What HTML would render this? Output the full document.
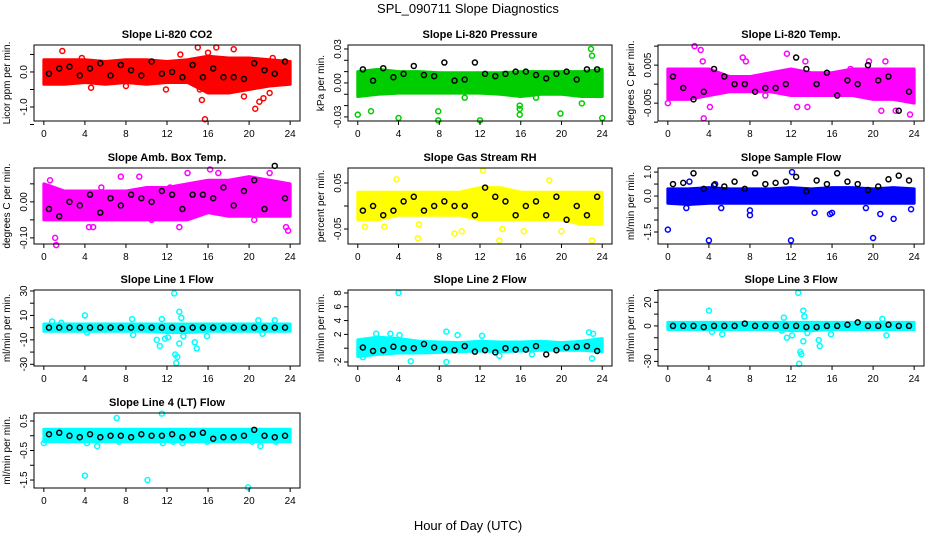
<!DOCTYPE html>
<html><head><meta charset="utf-8">
<style>
html,body{margin:0;padding:0;background:#fff;}
svg{display:block;font-family:"Liberation Sans",sans-serif;}
</style></head>
<body>
<svg id="chart" width="936" height="540" viewBox="0 0 936 540">
<text x="468" y="13" text-anchor="middle" font-size="13">SPL_090711  Slope Diagnostics</text>
<text x="468" y="530" text-anchor="middle" font-size="13">Hour of Day (UTC)</text>
</svg>
<script>
const xTicks = [0,4,8,12,16,20,24];
const bandHours = [0,2,4,6,8,10,12,14,16,18,20,22,24];

// Panel 1 CO2
const co2Lo = [-0.35,-0.35,-0.3,-0.35,-0.3,-0.35,-0.3,-0.3,-0.6,-0.6,-0.5,-0.4,-0.35];
const co2Hi = [0.35,0.35,0.35,0.3,0.35,0.35,0.3,0.35,0.45,0.4,0.4,0.35,0.3];
const co2Out = [[1.8,0.6],[4.6,-0.45],[3.7,0.4],[8,-0.4],[11.9,-0.5],[15,0.7],[15.2,-0.5],[15.4,-0.8],[15.7,-1.35],[16.8,0.7],[18.5,0.65],[19.5,-0.7],[20.6,-1.05],[21,-0.85],[21.4,-0.75],[22,-0.6],[22.3,0.4],[13.3,0.5],[17,-0.5],[16,0.55]];
const co2Black = [-0.05,0.1,0.15,-0.1,0.1,0.25,-0.1,0.2,0.05,-0.1,0.3,-0.05,0,-0.15,0.2,-0.15,0.1,-0.15,-0.15,-0.2,0.25,0.05,-0.05,0.3];
// Panel 2 Pressure
const presLo = [-0.012,-0.01,-0.009,-0.009,-0.009,-0.009,-0.009,-0.01,-0.012,-0.01,-0.01,-0.012,-0.012];
const presHi = [0.01,0.012,0.01,0.01,0.009,0.009,0.009,0.009,0.01,0.01,0.01,0.01,0.012];
const presOut = [[0,-0.028],[1.3,-0.025],[4,-0.031],[7.9,-0.025],[7.9,-0.033],[12,-0.033],[15.9,-0.02],[15.9,-0.023],[15.9,-0.028],[19.9,-0.027],[22,-0.018],[22.9,0.03],[23,0.024],[24,-0.031],[10.5,-0.013],[17.5,-0.013]];
const presBlack = [0.012,0.002,0.013,0.005,0.008,0.015,0.007,0.006,0.018,0.002,0.003,0.018,0.008,0.006,0.008,0.01,0.01,0.007,0.004,0.008,0.01,0.003,0.012,0.012];
// Panel 3 Li-820 Temp
const tempLo = [-0.004,-0.004,-0.003,-0.002,-0.002,-0.002,-0.003,-0.003,-0.003,-0.003,-0.004,-0.004,-0.005];
const tempHi = [0.004,0.004,0.004,0.002,0.002,0.003,0.004,0.003,0.003,0.004,0.004,0.004,0.004];
const tempOut = [[2.6,0.01],[3.2,0.009],[3.5,-0.009],[3.4,0.006],[7.3,0.007],[7.6,0.006],[11.6,0.008],[13.4,0.006],[13.6,-0.006],[12.6,-0.006],[21.2,0.006],[20.8,-0.007],[22.2,-0.007],[23.6,-0.008],[0,-0.005],[4.1,-0.006],[9.5,-0.003],[19.6,0.006],[17.8,0.004]];
const tempBlack = [0.002,-0.001,-0.004,-0.002,0.004,0.002,0,0,-0.002,-0.001,-0.001,0,0.007,0.004,0,0.003,-0.003,0.001,0,0.005,0.001,0.002,-0.007,-0.002];
// Panel 4 Amb Box Temp
const ambLo = [-0.05,-0.05,-0.05,-0.05,-0.05,-0.05,-0.05,-0.05,-0.03,-0.04,-0.04,-0.04,-0.04];
const ambHi = [0.05,0.03,0.03,0.03,0.03,0.04,0.04,0.05,0.06,0.06,0.07,0.06,0.05];
const ambOut = [[1.1,-0.1],[1.2,-0.12],[0.6,0.06],[4.4,-0.07],[4.8,-0.07],[7.5,0.07],[9.3,0.07],[10.5,-0.05],[13.2,-0.07],[14,0.08],[16.2,0.09],[17,0.08],[20.5,-0.05],[22,0.08],[23.6,-0.07],[23.8,-0.08],[5.6,0.04],[12.3,0.04]];
const ambBlack = [-0.02,-0.04,0,-0.01,0.02,-0.03,0.01,-0.01,0.02,0.01,0,0.03,0.02,-0.02,0.02,0.02,0.01,0.04,-0.01,0.03,0.06,-0.02,0.1,0.01];
// Panel 5 Gas RH
const rhLo = [-0.03,-0.03,-0.02,-0.02,-0.02,-0.02,-0.03,-0.03,-0.03,-0.03,-0.03,-0.04,-0.04];
const rhHi = [0.03,0.03,0.03,0.03,0.03,0.03,0.04,0.04,0.03,0.03,0.03,0.03,0.03];
const rhOut = [[0.7,-0.045],[2.6,-0.045],[3.8,0.058],[5.9,-0.07],[6,-0.04],[12.3,0.077],[9.5,-0.06],[13.9,-0.075],[18.8,0.056],[16.3,-0.055],[20,-0.055],[23,-0.075],[10.2,-0.055],[14.2,-0.05]];
const rhBlack = [-0.01,0,-0.02,-0.01,0.01,0.02,-0.01,0,0.01,0,0,-0.02,0.04,0.02,0.01,-0.02,0,0.01,-0.02,0.02,-0.03,0,-0.02,0.02];
// Panel 6 Sample Flow
const sfLo = [-0.3,-0.35,-0.3,-0.3,-0.3,-0.3,-0.3,-0.3,-0.3,-0.3,-0.3,-0.3,-0.3];
const sfHi = [0.3,0.3,0.35,0.3,0.3,0.3,0.35,0.3,0.35,0.35,0.3,0.35,0.3];
const sfOut = [[0,-1.4],[4,-1.85],[12,-1.85],[20,-1.75],[12.1,1.0],[2.1,0.6],[4.6,0.5],[8,-0.8],[8,-0.6],[16,-0.7],[15.8,-0.75],[19.3,-0.5],[20.7,-0.75],[22,-0.95],[23.7,-0.55],[14.3,-0.7],[5.2,-0.5],[1.8,-0.5]];
const sfBlack = [0.5,0.55,0.95,0.3,0.45,0.4,0.6,0.3,0.95,0.5,0.55,0.6,0.8,0.2,0.65,0.5,0.95,0.6,0.5,0.25,0.4,0.7,0.85,0.65];
// Panel 7 Line 1
const l1Lo = [-3,-3,-3,-3,-3,-3,-4,-4,-3,-3,-3,-3,-3];
const l1Hi = [3,3,3,3,3,3,3,3,3,3,3,3,3];
const l1Out = [[4,10],[0.8,5],[1.7,4],[4.2,-4],[8.7,-6],[8.6,7],[11,-10],[11.3,-15],[11.5,7],[12.7,28],[12.9,-29],[12.8,-22],[13,-24],[13.2,13],[13.4,8],[13.2,-13],[13.6,-7],[14.7,-12],[14.9,-17],[15.9,-7],[21.3,-5],[22.5,6],[20.9,6],[11.8,-9],[12.1,-8]];
const l1Black = [0,0,0,0,0,0,0,0,0,0,0,0,0,-1,0,0,0,0,0,0,0,0,0,0];
// Panel 8 Line 2
const l2Lo = [-1.2,-0.9,-0.7,-0.7,-0.6,-0.5,-0.4,-0.5,-0.4,-0.3,-0.3,-0.3,-0.5];
const l2Hi = [1.2,1.6,1.4,1.0,0.9,0.8,1.0,0.9,0.9,1.0,0.8,1.0,1.4];
const l2Out = [[0.5,-1.3],[4,8],[5.2,-1.9],[8.7,-2.0],[1.8,2.1],[3.2,2.1],[4.1,1.9],[8.7,2.4],[9.8,1.9],[12.2,1.8],[23,-1.5],[22.7,2.3],[23.1,2.1],[13.9,-1.1],[17.1,-0.9]];
const l2Black = [0.1,-0.4,-0.3,0.2,0,0,0.6,0.1,-0.2,-0.3,0.3,-0.5,-0.3,-0.6,0,-0.2,-0.2,0.3,-0.9,-0.3,0.1,0.2,0.3,-0.4];
// Panel 9 Line 3
const l3Lo = [-3,-3,-3,-3,-3,-3,-4,-4,-3,-3,-3,-3,-3];
const l3Hi = [3,3,3,3,3,3,3,3,3,3,3,3,3];
const l3Out = [[4,13],[4.3,-5],[5.3,-7],[11.1,-4],[11.3,7],[12.7,28],[12.8,-32],[12.9,-22],[13,-24],[13.2,13],[13.3,8],[13.2,-13],[14.7,-12],[14.8,-17],[15.9,-7],[21.3,-8],[20.9,6],[11.6,-10],[12.1,-8],[13.6,-6]];
const l3Black = [0,0,0,-1,0,0,0,2,0,0,0,0,0,-1,-1,0,0,1,3,0,0,1,0,0];
// Panel 10 Line 4
const l4Lo = [-0.2,-0.2,-0.2,-0.2,-0.2,-0.2,-0.2,-0.2,-0.2,-0.2,-0.2,-0.2,-0.2];
const l4Hi = [0.22,0.22,0.22,0.22,0.22,0.22,0.22,0.22,0.22,0.22,0.22,0.22,0.22];
const l4Out = [[0,-0.25],[4,-1.35],[4.2,-0.25],[5.2,-0.35],[7.1,0.6],[7.3,-0.2],[10.1,-1.5],[11.5,0.75],[11.6,-0.25],[13.5,-0.25],[15.9,-0.2],[19.9,-1.75],[20.3,-0.2],[21.1,-0.35],[22.6,-0.2],[12.6,-0.2]];
const l4Black = [0.05,0.1,0,-0.05,0.05,-0.05,0,0,-0.05,0.05,0,0,0.05,-0.05,0.05,0.1,-0.1,-0.05,-0.05,0,0.2,0,-0.05,0];

const panels = [
 {name:'co2',title:'Slope Li-820 CO2',ylab:'Licor ppm per min.',col:'#ff0000',box:[34,45,300,121],ylim:[-1.40,0.77],ticks:[-1.5,-1,-0.5,0,0.5],labels:{'-1':'-1.0','0':'0.0'},lo:co2Lo,hi:co2Hi,out:co2Out,blk:co2Black},
 {name:'pressure',title:'Slope Li-820 Pressure',ylab:'kPa per min.',col:'#00cd00',box:[348,45,612,121],ylim:[-0.0336,0.0335],ticks:[-0.03,-0.02,-0.01,0,0.01,0.02,0.03],labels:{'-0.03':'-0.03','0':'0.00','0.03':'0.03'},lo:presLo,hi:presHi,out:presOut,blk:presBlack},
 {name:'li820-temp',title:'Slope Li-820 Temp.',ylab:'degrees C per min.',col:'#ff00ff',box:[658,45,924,121],ylim:[-0.0097,0.0103],ticks:[-0.01,-0.005,0,0.005,0.01],labels:{'-0.005':'-0.005','0.005':'0.005'},lo:tempLo,hi:tempHi,out:tempOut,blk:tempBlack},
 {name:'amb-box-temp',title:'Slope Amb. Box Temp.',ylab:'degrees C per min.',col:'#ff00ff',box:[34,168,300,244],ylim:[-0.117,0.094],ticks:[-0.1,-0.05,0,0.05],labels:{'-0.1':'-0.10','0':'0.00'},lo:ambLo,hi:ambHi,out:ambOut,blk:ambBlack},
 {name:'gas-rh',title:'Slope Gas Stream RH',ylab:'percent per min.',col:'#ffff00',box:[348,168,612,244],ylim:[-0.0826,0.0826],ticks:[-0.05,0,0.05],labels:{'-0.05':'-0.05','0.05':'0.05'},lo:rhLo,hi:rhHi,out:rhOut,blk:rhBlack},
 {name:'sample-flow',title:'Slope Sample Flow',ylab:'ml/min per min.',col:'#0000ff',box:[658,168,924,244],ylim:[-2.0,1.17],ticks:[-1.5,-1,-0.5,0,0.5,1],labels:{'-1.5':'-1.5','0':'0.0','1':'1.0'},lo:sfLo,hi:sfHi,out:sfOut,blk:sfBlack},
 {name:'line1-flow',title:'Slope Line 1 Flow',ylab:'ml/min per min.',col:'#00ffff',box:[34,290,300,366],ylim:[-31.4,30.8],ticks:[-30,-20,-10,0,10,20,30],labels:{'-30':'-30','-10':'-10','10':'10','30':'30'},lo:l1Lo,hi:l1Hi,out:l1Out,blk:l1Black},
 {name:'line2-flow',title:'Slope Line 2 Flow',ylab:'ml/min per min.',col:'#00ffff',box:[348,290,612,366],ylim:[-2.58,8.43],ticks:[-2,0,2,4,6,8],labels:{'-2':'-2','2':'2','4':'4','6':'6','8':'8'},lo:l2Lo,hi:l2Hi,out:l2Out,blk:l2Black},
 {name:'line3-flow',title:'Slope Line 3 Flow',ylab:'ml/min per min.',col:'#00ffff',box:[658,290,924,366],ylim:[-33.9,30.4],ticks:[-30,-20,-10,0,10,20,30],labels:{'-30':'-30','0':'0','20':'20'},lo:l3Lo,hi:l3Hi,out:l3Out,blk:l3Black},
 {name:'line4-flow',title:'Slope Line 4 (LT) Flow',ylab:'ml/min per min.',col:'#00ffff',box:[34,413,300,488],ylim:[-1.77,0.77],ticks:[-1.5,-1,-0.5,0,0.5],labels:{'-1.5':'-1.5','-0.5':'-0.5','0.5':'0.5'},lo:l4Lo,hi:l4Hi,out:l4Out,blk:l4Black}
];

const NS='http://www.w3.org/2000/svg';
const svg=document.getElementById('chart');
function mk(tag,attrs,parent){const e=document.createElementNS(NS,tag);for(const k in attrs)e.setAttribute(k,attrs[k]);(parent||svg).appendChild(e);return e;}

panels.forEach(p=>{
  const [x0,y0,x1,y1]=p.box;
  const g=mk('g',{});
  
  
  const xs=h=>x0+(h+0.96)/25.92*(x1-x0);
  const ys=v=>y1-(v-p.ylim[0])/(p.ylim[1]-p.ylim[0])*(y1-y0);
  const t=mk('text',{x:(x0+x1)/2,y:y0-7,'text-anchor':'middle','font-size':11,'font-weight':'bold'},g);
  t.textContent=p.title;
  
  
  const yl=mk('text',{x:0,y:0,'text-anchor':'middle','font-size':10,transform:`translate(${x0-24},${(y0+y1)/2}) rotate(-90)`},g);
  yl.textContent=p.ylab;
  
  
  let d='';
  bandHours.forEach((h,i)=>{d+=(i?'L':'M')+xs(h)+','+ys(p.hi[i]);});
  for(let i=bandHours.length-1;i>=0;i--)d+='L'+xs(bandHours[i])+','+ys(p.lo[i]);
  const band=mk('path',{d:d+'Z',fill:p.col,stroke:p.col,'stroke-width':3,'stroke-linejoin':'round'},g);
  
  
  p.out.forEach(o=>{
    const c=mk('circle',{cx:xs(o[0]),cy:ys(o[1]),r:2.5,fill:'none',stroke:p.col,'stroke-width':1.5},g);
    
    
  });
  p.blk.forEach((v,i)=>{
    const c=mk('circle',{cx:xs(0.5+i),cy:ys(v),r:2.5,fill:'none',stroke:'#000','stroke-width':1.5},g);
    
    
  });
  const b=mk('rect',{x:x0,y:y0,width:x1-x0,height:y1-y0,fill:'none',stroke:'#000','stroke-width':1},g);
  
  
  p.ticks.forEach(v=>{
    const y=ys(v);
    mk('line',{x1:x0,x2:x0-4,y1:y,y2:y,stroke:'#000','stroke-width':1},g);
    const key=String(v);
    if(p.labels[key]!==undefined){
      const tl=mk('text',{x:0,y:0,'text-anchor':'middle','font-size':10,transform:`translate(${x0-7},${y}) rotate(-90)`},g);
      tl.textContent=p.labels[key];
      
      
    }
  });
  mk('line',{x1:xs(0),x2:xs(24),y1:y1,y2:y1,stroke:'#000','stroke-width':1},g);
  xTicks.forEach(h=>{
    mk('line',{x1:xs(h),x2:xs(h),y1:y1,y2:y1+4,stroke:'#000','stroke-width':1},g);
    const xl=mk('text',{x:xs(h),y:y1+16,'text-anchor':'middle','font-size':10},g);
    xl.textContent=h;
    
    
  });
});
</script>
</body></html>
